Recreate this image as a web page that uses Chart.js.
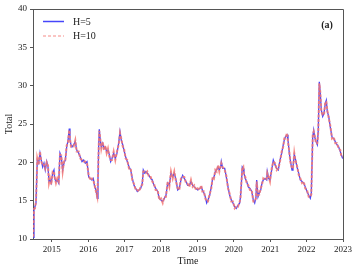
<!DOCTYPE html>
<html>
<head>
<meta charset="utf-8">
<script src="https://cdn.jsdelivr.net/npm/chart.js@4/dist/chart.umd.min.js"></script>
<style>
html,body{margin:0;padding:0;background:#fff;}
canvas{display:block;}
</style>
</head>
<body>
<canvas id="c" width="358" height="272"></canvas>
<script>
// time in decimal years
const times = [
2014.489,2014.511,2014.538,2014.566,2014.585,2014.602,2014.640,2014.676,2014.711,2014.750,
2014.786,2014.821,2014.860,2014.896,2014.923,2014.951,2014.986,2015.025,2015.060,2015.079,
2015.115,2015.151,2015.190,2015.225,2015.261,2015.299,2015.335,2015.371,2015.409,2015.445,
2015.481,2015.500,2015.527,2015.555,2015.602,2015.646,2015.684,2015.739,2015.783,2015.830,
2015.876,2015.920,2015.967,2016.014,2016.058,2016.104,2016.140,2016.178,2016.214,2016.250,
2016.269,2016.288,2016.305,2016.332,2016.360,2016.398,2016.434,2016.470,2016.508,2016.544,
2016.580,2016.618,2016.654,2016.700,2016.745,2016.791,2016.838,2016.874,2016.909,2016.948,
2016.983,2017.030,2017.074,2017.121,2017.167,2017.212,2017.258,2017.305,2017.349,2017.396,
2017.442,2017.486,2017.514,2017.552,2017.588,2017.624,2017.670,2017.717,2017.761,2017.808,
2017.854,2017.909,2017.953,2018.000,2018.047,2018.091,2018.137,2018.184,2018.228,2018.275,
2018.321,2018.365,2018.412,2018.459,2018.503,2018.549,2018.596,2018.640,2018.687,2018.733,
2018.777,2018.824,2018.871,2018.915,2018.962,2019.008,2019.063,2019.107,2019.135,2019.181,
2019.217,2019.255,2019.291,2019.338,2019.382,2019.420,2019.456,2019.492,2019.530,2019.566,
2019.602,2019.640,2019.657,2019.695,2019.750,2019.794,2019.841,2019.887,2019.931,2019.978,
2020.025,2020.069,2020.115,2020.162,2020.184,2020.206,2020.233,2020.261,2020.280,2020.316,
2020.354,2020.398,2020.445,2020.492,2020.536,2020.574,2020.610,2020.629,2020.665,2020.700,
2020.739,2020.775,2020.810,2020.857,2020.904,2020.920,2020.959,2020.995,2021.041,2021.085,
2021.132,2021.179,2021.223,2021.269,2021.316,2021.360,2021.387,2021.415,2021.462,2021.489,
2021.525,2021.552,2021.599,2021.626,2021.662,2021.690,2021.736,2021.783,2021.827,2021.874,
2021.920,2021.964,2022.011,2022.058,2022.102,2022.129,2022.168,2022.195,2022.223,2022.258,
2022.294,2022.321,2022.349,2022.376,2022.404,2022.442,2022.478,2022.514,2022.541,2022.569,
2022.607,2022.651,2022.698,2022.745,2022.788,2022.835,2022.882,2022.926,2022.953,2022.992
];

const totalH5 = [
10.2,13.8,14.2,14.7,17.7,20.3,19.9,21.2,20.3,19.4,
19.9,19.0,20.1,19.4,17.5,17.7,17.3,18.6,19.0,17.9,
17.5,17.7,17.3,21.2,20.7,19.0,19.9,20.3,22.0,22.8,
24.4,22.9,22.3,22.0,22.3,22.7,21.6,21.2,20.7,20.1,
20.3,19.9,20.1,18.1,17.9,17.7,17.9,16.8,16.4,15.3,
17.7,22.0,24.3,22.9,22.0,22.5,21.8,22.0,21.4,21.6,
21.0,20.1,20.5,21.2,20.5,21.2,22.5,24.0,22.9,22.3,
21.6,20.7,20.1,19.4,19.0,17.9,17.0,16.6,16.2,16.4,
16.6,17.3,19.0,18.6,18.8,18.6,18.3,17.9,17.7,17.0,
16.6,16.2,15.3,15.1,14.9,15.3,15.7,17.3,17.0,18.6,
18.1,18.6,17.7,16.4,16.6,17.7,18.3,17.9,17.5,17.0,
17.0,17.5,17.0,16.8,16.6,16.4,16.6,16.8,16.4,16.0,
15.5,14.7,15.1,15.7,16.8,17.9,18.1,18.8,19.0,19.4,
19.0,19.4,20.1,19.2,19.2,18.1,16.8,15.7,15.1,14.7,
14.2,14.0,14.4,14.7,15.5,17.0,19.4,19.2,18.6,17.9,
17.5,16.8,16.6,16.2,15.1,14.7,15.5,17.7,15.5,16.0,
16.4,17.3,17.7,17.9,17.7,18.8,17.9,17.7,19.0,20.3,
19.7,19.2,19.0,20.3,21.2,22.3,22.9,23.3,23.6,22.9,
21.2,20.3,19.0,19.4,21.0,20.5,19.4,18.6,17.7,17.5,
17.3,16.8,16.2,15.7,15.3,16.0,23.3,24.2,23.3,22.7,
22.3,24.2,30.5,29.0,26.8,26.0,26.4,27.7,28.1,26.6,
26.0,24.6,23.3,23.1,22.7,22.3,22.0,21.4,21.0,20.5
];

const totalH10 = [
10.3,13.9,14.0,14.9,17.5,20.5,19.7,21.4,20.1,19.6,
19.7,19.2,20.0,19.6,17.3,17.9,17.1,18.8,18.8,18.1,
17.3,17.9,17.5,21.0,20.9,18.8,20.1,20.1,22.2,22.6,
24.2,23.1,22.1,22.2,22.1,22.9,21.4,21.4,20.5,20.3,
20.1,20.1,19.9,18.3,17.7,17.9,17.7,17.0,16.2,15.5,
17.9,21.8,24.1,23.1,21.8,22.7,21.6,22.2,21.2,21.8,
20.8,20.3,20.3,21.4,20.3,21.4,22.3,23.8,23.1,22.1,
21.8,20.5,20.3,19.2,19.2,17.7,17.2,16.4,16.4,16.2,
16.8,17.1,18.8,18.8,18.6,18.8,18.1,18.1,17.5,17.2,
16.4,16.4,15.1,15.3,14.7,15.5,15.5,17.5,16.8,18.8,
17.9,18.8,17.5,16.6,16.4,17.9,18.1,18.1,17.3,17.2,
16.8,17.7,16.8,17.0,16.4,16.6,16.4,17.0,16.2,16.2,
15.3,14.9,14.9,15.9,16.6,18.1,17.9,19.0,18.8,19.6,
18.8,19.6,19.9,19.4,19.0,18.3,16.6,15.9,14.9,14.9,
14.0,14.2,14.2,14.9,15.3,17.2,19.2,19.4,18.4,18.1,
17.3,17.0,16.4,16.4,14.9,14.9,15.3,17.5,15.7,15.8,
16.6,17.1,17.9,17.7,17.9,18.6,18.1,17.5,19.2,20.1,
19.9,19.0,19.2,20.1,21.4,22.1,23.1,23.1,23.8,22.7,
21.4,20.1,19.2,19.2,21.2,20.3,19.6,18.4,17.9,17.3,
17.5,16.6,16.4,15.5,15.5,15.8,23.5,24.0,23.5,22.5,
22.5,24.0,30.3,29.2,26.6,26.2,26.2,27.9,27.9,26.8,
25.8,24.8,23.1,23.3,22.5,22.5,21.8,21.6,20.8,20.7
];

const yearTicks = [2015,2016,2017,2018,2019,2020,2021,2022,2023];
const seriesNames = ['H=5','H=10'];
const panelLabel = '(a)';

const FONT = "'Liberation Serif', 'Times New Roman', serif";
const BLUE = 'rgb(70,70,250)';
const RED = 'rgba(245,120,115,0.85)';
const AXIS = '#555';

const overlay = {
  id: 'overlay',
  afterDraw(chart) {
    const ctx = chart.ctx, ca = chart.chartArea;
    ctx.save();
    // frame top/right
    ctx.strokeStyle = AXIS; ctx.lineWidth = 1;
    ctx.beginPath();
    ctx.moveTo(ca.left, ca.top + 0.5); ctx.lineTo(ca.right + 0.5, ca.top + 0.5);
    ctx.lineTo(ca.right + 0.5, ca.bottom);
    ctx.stroke();
    // legend
    const lx = ca.left + 10, lw = 21;
    const ys = [ca.top + 12.5, ca.top + 27];
    ctx.lineWidth = 1.5;
    ctx.strokeStyle = BLUE; ctx.setLineDash([]);
    ctx.beginPath(); ctx.moveTo(lx, ys[0]); ctx.lineTo(lx + lw, ys[0]); ctx.stroke();
    ctx.strokeStyle = RED; ctx.lineWidth = 1.2; ctx.setLineDash([3, 2]);
    ctx.beginPath(); ctx.moveTo(lx, ys[1]); ctx.lineTo(lx + lw, ys[1]); ctx.stroke();
    ctx.setLineDash([]);
    ctx.fillStyle = '#222';
    ctx.font = '10px ' + FONT;
    ctx.textAlign = 'left'; ctx.textBaseline = 'middle';
    ctx.fillText(seriesNames[0], lx + 30, ys[0] + 0.5);
    ctx.fillText(seriesNames[1], lx + 30, ys[1] + 0.5);
    // panel label
    ctx.font = 'bold 10px ' + FONT;
    ctx.textAlign = 'center';
    ctx.fillText(panelLabel, ca.right - 16, ca.top + 16);
    ctx.restore();
  }
};

const pts = (arr) => arr.map((v, i) => ({x: times[i], y: v}));

new Chart(document.getElementById('c'), {
  type: 'line',
  data: {
    datasets: [
      {label: seriesNames[0], data: pts(totalH5), borderColor: BLUE, borderWidth: 1.3,
       pointRadius: 0, tension: 0, fill: false, order: 1},
      {label: seriesNames[1], data: pts(totalH10), borderColor: RED, borderWidth: 2,
       borderDash: [3, 1.5], pointRadius: 0, tension: 0, fill: false, order: 0}
    ]
  },
  options: {
    responsive: false,
    animation: false,
    events: [],
    layout: {padding: {left: 0, top: 9, right: 15, bottom: 0}},
    plugins: {legend: {display: false}, tooltip: {enabled: false}},
    scales: {
      x: {
        type: 'linear', min: 2014.484, max: 2023,
        afterBuildTicks: (s) => { s.ticks = yearTicks.map(v => ({value: v})); },
        afterFit: (s) => { s.height = 33; },
        ticks: {color: '#222', font: {family: FONT, size: 9}, padding: 2, maxRotation: 0,
                callback: (v) => String(v)},
        grid: {display: true, drawOnChartArea: false, drawTicks: true, tickLength: 3, color: AXIS},
        border: {display: true, color: AXIS, width: 1},
        title: {display: true, text: 'Time', color: '#222', font: {family: FONT, size: 10},
                padding: {top: 0, bottom: 5}}
      },
      y: {
        min: 10, max: 40,
        afterFit: (s) => { s.width = 33; },
        ticks: {stepSize: 5, color: '#222', font: {family: FONT, size: 9}, padding: 3},
        grid: {display: true, drawOnChartArea: false, drawTicks: true, tickLength: 3, color: AXIS},
        border: {display: true, color: AXIS, width: 1},
        title: {display: true, text: 'Total', color: '#222', font: {family: FONT, size: 10},
                padding: {top: 3, bottom: 0}}
      }
    }
  },
  plugins: [overlay]
});
</script>
</body>
</html>
